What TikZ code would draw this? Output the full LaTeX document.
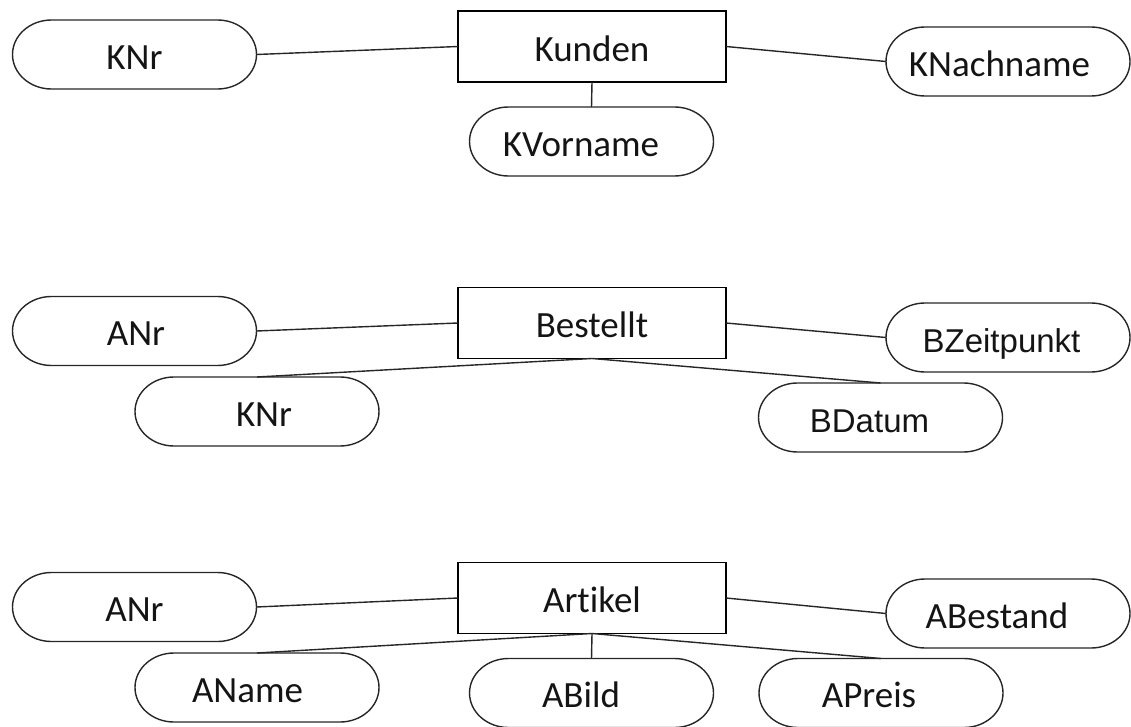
\documentclass[tikz,border=0pt]{standalone}
\usepackage{fontspec}
\setmainfont{Carlito}[Ligatures=NoCommon]
\newfontfamily\arialf{Liberation Sans}
\tikzset{
  ent/.style={draw, line width=1.4pt, rectangle, minimum width=268pt, minimum height=71pt,
    inner sep=0pt, outer sep=0pt, font=\fontsize{37}{44}\selectfont,
    text height=29.6pt, text depth=0pt, text=black!92},
  attr/.style={rectangle, minimum width=244pt, minimum height=69pt,
    inner sep=0pt, outer sep=0pt, font=\fontsize{37}{44}\selectfont,
    text height=29.6pt, text depth=0pt, text=black!92},
  attrB/.style={attr, font=\arialf\fontsize{33}{40}\selectfont},
  conn/.style={line width=1.4pt, black!85},
  ovalline/.style={line width=1.4pt, black!85},
}
\begin{document}
\begin{tikzpicture}
\useasboundingbox (0,0) rectangle (1131pt,-727pt);
% Row 1
\node[ent]  (kunden) at (592pt,-46.5pt) {Kunden};
\node[attr] (knr)    at (134.5pt,-54.5pt) {KNr};
\node[attr] (knach)  at (1008pt,-61.5pt) {\hspace*{-17pt}KNachname};
\node[attr] (kvor)   at (591.5pt,-141.5pt) {\hspace*{-21pt}KVorname};
% Row 2
\node[ent]  (bestellt) at (592pt,-323pt) {Bestellt};
\node[attr] (anra)     at (134.5pt,-331pt) {\hspace*{3pt}ANr};
\node[attrB] (bzeit)   at (1008pt,-337.5pt) {\hspace*{-13pt}BZeitpunkt};
\node[attr] (knrb)     at (257pt,-411.5pt) {\hspace*{14pt}KNr};
\node[attrB] (bdat)    at (880.5pt,-417.5pt) {\hspace*{-22pt}BDatum};
% Row 3
\node[ent]  (artikel) at (592pt,-598pt) {Artikel};
\node[attr] (anrb)    at (134.5pt,-607pt) {ANr};
\node[attr] (abest)   at (1008pt,-613.5pt) {\hspace*{-22pt}ABestand};
\node[attr] (aname)   at (257pt,-687.5pt) {\hspace*{-19pt}AName};
\node[attr] (abild)   at (591.5pt,-693pt) {\hspace*{-21pt}ABild};
\node[attr] (apreis)  at (881pt,-693pt) {\hspace*{-24pt}APreis};
% oval outlines (terminator shape)
\foreach \n in {knr,knach,kvor,anra,bzeit,knrb,bdat,anrb,abest,aname,abild,apreis} {
  \draw[ovalline] ([xshift=39pt]\n.north west) -- ([xshift=-39pt]\n.north east)
    arc[start angle=90, end angle=-90, x radius=39pt, y radius=34.5pt]
    -- ([xshift=39pt]\n.south west)
    arc[start angle=270, end angle=90, x radius=39pt, y radius=34.5pt] -- cycle;
}
% connectors
\draw[conn] (kunden.west) -- (knr.east);
\draw[conn] (kunden.east) -- (knach.west);
\draw[conn] (kunden.south) -- (kvor.north);
\draw[conn] (bestellt.west) -- (anra.east);
\draw[conn] (bestellt.east) -- (bzeit.west);
\draw[conn] (bestellt.south) -- (knrb.north);
\draw[conn] (bestellt.south) -- (bdat.north);
\draw[conn] (artikel.west) -- (anrb.east);
\draw[conn] (artikel.east) -- (abest.west);
\draw[conn] (artikel.south) -- (aname.north);
\draw[conn] (artikel.south) -- (abild.north);
\draw[conn] (artikel.south) -- (apreis.north);
\end{tikzpicture}
\end{document}
